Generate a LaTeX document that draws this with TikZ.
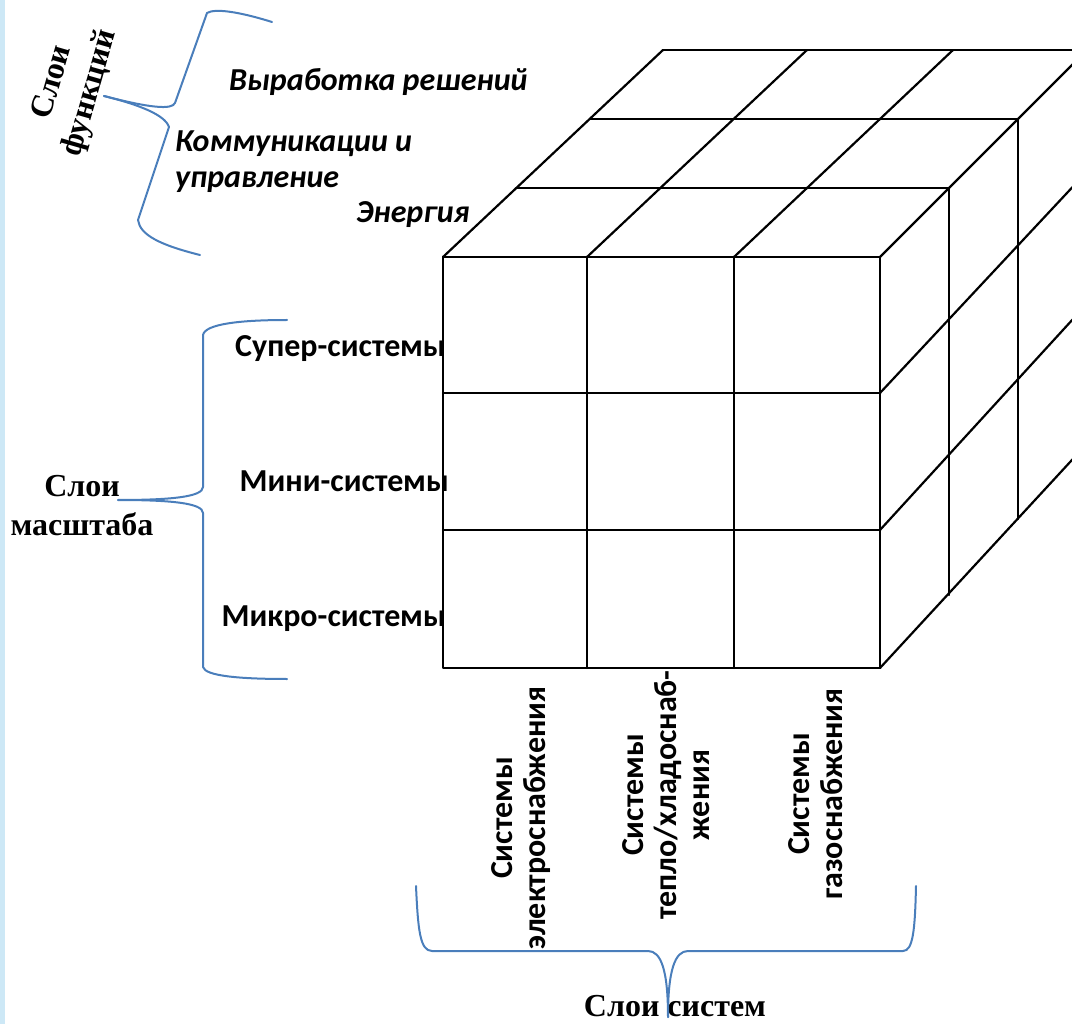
\documentclass[tikz,border=0pt]{standalone}
\usepackage{fontspec}
\setmainfont{Liberation Serif}
\newfontfamily\calfont{Carlito}
\definecolor{bracecol}{HTML}{4A7EBB}
\definecolor{stripcol}{HTML}{CDE8F6}
\begin{document}
\begin{tikzpicture}[x=1pt,y=-1pt,
  cubeline/.style={line width=2.2pt, black, line cap=round, line join=round},
  bracket/.style={line width=2pt, bracecol, line cap=round, line join=round},
  funclabel/.style={font=\calfont\bfseries\itshape\fontsize{32}{36}\selectfont, inner sep=0pt},
  scalelabel/.style={font=\calfont\bfseries\fontsize{32}{36}\selectfont, inner sep=0pt},
  syslabel/.style={font=\calfont\bfseries\fontsize{32}{33}\selectfont, inner sep=0pt, rotate=90, align=center},
  layertitle/.style={font=\bfseries\fontsize{32}{39}\selectfont, inner sep=0pt, align=center}
]
\useasboundingbox (0,0) rectangle (1072,1024);
\clip (0,0) rectangle (1072,1024);
\fill[stripcol] (0,0) rectangle (5,1024);

% ---- cube: front face
\draw[cubeline] (443,257) rectangle (880,668);
\foreach \x in {587,734} \draw[cubeline] (\x,257) -- (\x,668);
\foreach \y in {393,530} \draw[cubeline] (443,\y) -- (880,\y);
% ---- top face
\draw[cubeline] (516,188) -- (949,188);
\draw[cubeline] (590,119) -- (1018,119);
\draw[cubeline] (663,50) -- (1095,50);
\draw[cubeline] (443,257) -- (663,50);
\draw[cubeline] (587,257) -- (807,50);
\draw[cubeline] (734,257) -- (953,50);
\draw[cubeline] (880,257) -- (1087,50);
% ---- right face
\draw[cubeline] (949,188) -- (949,595);
\draw[cubeline] (1018,119) -- (1018,519);
\draw[cubeline] (880,393) -- (1095,163);
\draw[cubeline] (880,530) -- (1095,295);
\draw[cubeline] (880,668) -- (1095,435);

% ---- function layer labels
\node[funclabel, anchor=base west] (decision) at (229,91) {Выработка решений};
\node[funclabel, anchor=base west] (comm) at (175,152) {Коммуникации и};
\node[funclabel, anchor=base west] (ctrl) at (175,188) {управление};
\node[funclabel, anchor=base west] (energy) at (356,223) {Энергия};

% ---- scale layer labels
\node[scalelabel, anchor=base east] (super) at (446,357) {Супер-системы};
\node[scalelabel, anchor=base east] (mini) at (449,492) {Мини-системы};
\node[scalelabel, anchor=base east] (micro) at (446,626) {Микро-системы};

% ---- system layer labels
\node[syslabel] (elec) at (521,818) {Системы\\электроснабжения};
\node[syslabel] (heat) at (666,795) {Системы\\тепло/хладоснаб-\\жения};
\node[syslabel] (gas) at (816,794) {Системы\\газоснабжения};

% ---- layer titles
\node[layertitle, rotate=74] (funcs) at (72,88) {Слои\\функций};
\node[layertitle] (scale) at (82,506) {Слои\\масштаба};
\node[layertitle, anchor=base] (systems) at (675,1016) {Слои систем};

% ---- braces
\draw[bracket] (272,22) .. controls (240,12) and (215,8) .. (207,13)
  -- (175,103) .. controls (172,110) and (150,108) .. (104,96);
\draw[bracket] (104,96) .. controls (140,105) and (165,115) .. (169,127)
  -- (138,220) .. controls (140,235) and (160,245) .. (200,255);
\draw[bracket] (287,320) .. controls (240,320) and (205,324) .. (203,335)
  -- (203,487) .. controls (203,497) and (170,500) .. (118,500);
\draw[bracket] (118,500) .. controls (170,500) and (203,503) .. (203,513)
  -- (203,667) .. controls (205,676) and (240,679) .. (287,679);
\draw[bracket] (416,886) .. controls (418,930) and (420,951) .. (432,951)
  -- (648,951) .. controls (661,951) and (668,970) .. (668,1017);
\draw[bracket] (668,1017) .. controls (668,970) and (675,951) .. (688,951)
  -- (903,951) .. controls (913,951) and (915,930) .. (916,886);
\end{tikzpicture}
\end{document}
